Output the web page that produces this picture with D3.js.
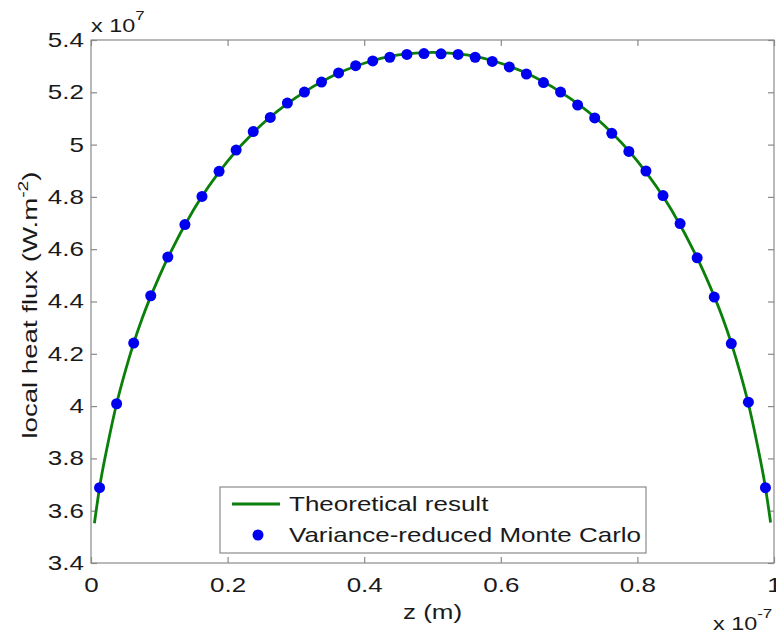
<!DOCTYPE html>
<html>
<head>
<meta charset="utf-8">
<script src="https://cdn.jsdelivr.net/npm/d3@7"></script>
<style>
  body { margin: 0; background: #fff; }
  svg { font-family: "Liberation Sans", Arial, sans-serif; }
</style>
</head>
<body>
<svg id="chart" width="776" height="637"></svg>
<script>
// z in units of 1e-7 m, flux in units of 1e7 W.m^-2
const mcZ = d3.range(40).map(i => (i + 0.5) / 40);
const mcFlux = [
  3.688, 4.009, 4.241, 4.422, 4.570, 4.694, 4.802, 4.898, 4.979, 5.050,
  5.104, 5.159, 5.201, 5.239, 5.274, 5.302, 5.320, 5.334, 5.345, 5.348,
  5.347, 5.345, 5.334, 5.318, 5.297, 5.270, 5.237, 5.201, 5.151, 5.102,
  5.043, 4.974, 4.899, 4.805, 4.698, 4.567, 4.417, 4.239, 4.015, 3.688
];
const theoryZ = [0.005, 0.0125, 0.025, 0.0375, 0.05, 0.0625, 0.075, 0.1, 0.15, 0.2, 0.25, 0.3,
  0.35, 0.4, 0.45, 0.5, 0.55, 0.6, 0.65, 0.7, 0.75, 0.8, 0.85, 0.9, 0.925, 0.9375, 0.95,
  0.9625, 0.975, 0.9875, 0.995];
const theoryFlux = [3.552, 3.688, 3.860, 4.009, 4.132, 4.241, 4.336, 4.496, 4.750, 4.937,
  5.077, 5.180, 5.258, 5.311, 5.343, 5.353, 5.343, 5.311, 5.258, 5.180, 5.077, 4.937,
  4.750, 4.496, 4.336, 4.241, 4.132, 4.009, 3.860, 3.688, 3.555];
const xTicks = [0, 0.2, 0.4, 0.6, 0.8, 1];
const yTicks = [3.4, 3.6, 3.8, 4, 4.2, 4.4, 4.6, 4.8, 5, 5.2, 5.4];
const legendLabels = ["Theoretical result", "Variance-reduced Monte Carlo"];

const margin = {top: 40, right: 2, bottom: 74, left: 91};
const W = 776, H = 637;
const width = W - margin.left - margin.right;
const height = H - margin.top - margin.bottom;
const axisColor = "#8a8a8a";
const textColor = "#1a1a1a";
const SX = 1.3; // the original font is wide, stretch glyphs along the text
const fmt = d3.format(".1~f");

const svg = d3.select("#chart");
const g = svg.append("g").attr("transform", `translate(${margin.left},${margin.top})`);

const x = d3.scaleLinear().domain([0, 1]).range([0, width]);
const y = d3.scaleLinear().domain([3.4, 5.4]).range([height, 0]);

// box + inward ticks on all sides
g.append("rect").attr("width", width).attr("height", height)
  .attr("fill", "none").attr("stroke", axisColor).attr("stroke-width", 1.2);

function styleAxis(sel) {
  sel.select(".domain").remove();
  sel.selectAll(".tick line").attr("stroke", axisColor).attr("stroke-width", 1.2);
  sel.selectAll(".tick text").attr("fill", textColor).style("font-size", "20px")
    .attr("transform", `scale(${SX},1)`);
}

g.append("g").attr("transform", `translate(0,${height})`)
  .call(d3.axisBottom(x).tickValues(xTicks).tickFormat(fmt).tickSizeInner(-6).tickPadding(15))
  .call(styleAxis);
g.append("g")
  .call(d3.axisTop(x).tickValues(xTicks).tickFormat("").tickSizeInner(-6))
  .call(styleAxis);
g.append("g")
  .call(d3.axisLeft(y).tickValues(yTicks).tickFormat(fmt).tickSizeInner(-6).tickPadding(5.5))
  .call(styleAxis);
g.append("g").attr("transform", `translate(${width},0)`)
  .call(d3.axisRight(y).tickValues(yTicks).tickFormat("").tickSizeInner(-6))
  .call(styleAxis);

// theoretical curve
const line = d3.line().x(d => x(d[0])).y(d => y(d[1])).curve(d3.curveMonotoneX);
g.append("path")
  .datum(d3.zip(theoryZ, theoryFlux))
  .attr("fill", "none").attr("stroke", "#0a7f0a").attr("stroke-width", 2.8)
  .attr("d", line);

// Monte Carlo points
g.selectAll(".mc").data(d3.zip(mcZ, mcFlux)).enter().append("circle")
  .attr("class", "mc")
  .attr("cx", d => x(d[0])).attr("cy", d => y(d[1])).attr("r", 5.5)
  .attr("fill", "#0000f0");

// exponent labels
function expLabel(px, py, base, sup) {
  const t = svg.append("text")
    .attr("transform", `translate(${px},${py}) scale(${SX},1)`)
    .style("font-size", "18px").attr("fill", textColor);
  t.append("tspan").text(base);
  t.append("tspan").attr("dy", -12).style("font-size", "13px").text(sup);
}
expLabel(91, 32, "x 10", "7");
expLabel(713, 630, "x 10", "-7");

// axis titles
svg.append("text")
  .attr("transform", `translate(${margin.left + width / 2},619) scale(${SX},1)`)
  .attr("text-anchor", "middle").style("font-size", "20px").attr("fill", textColor)
  .text("z (m)");

const yl = svg.append("text")
  .attr("transform", `translate(37,305) rotate(-90) scale(1.38,1)`)
  .attr("text-anchor", "middle").style("font-size", "20px").attr("fill", textColor);
yl.append("tspan").text("local heat flux (W.m");
yl.append("tspan").attr("dy", -9).style("font-size", "14px").text("-2");
yl.append("tspan").attr("dy", 9).text(")");

// legend
const leg = svg.append("g").attr("transform", "translate(220,487)");
leg.append("rect").attr("width", 426).attr("height", 66)
  .attr("fill", "#fff").attr("stroke", axisColor).attr("stroke-width", 1.2);
leg.append("line").attr("x1", 12).attr("x2", 60).attr("y1", 17).attr("y2", 17)
  .attr("stroke", "#0a7f0a").attr("stroke-width", 2.8);
leg.append("circle").attr("cx", 38).attr("cy", 48).attr("r", 5.5).attr("fill", "#0000f0");
leg.selectAll(".lt").data(legendLabels).enter().append("text")
  .attr("transform", (d, i) => `translate(69,${17 + i * 31}) scale(${SX},1)`)
  .attr("dy", "0.36em").style("font-size", "20px").attr("fill", textColor)
  .text(d => d);
</script>
</body>
</html>
